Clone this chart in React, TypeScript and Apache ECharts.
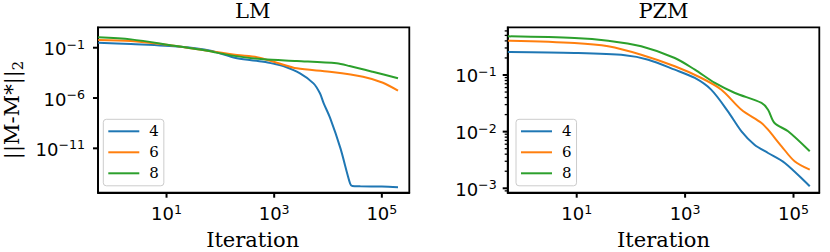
import React, { useEffect, useRef } from "react";
import * as echarts from "echarts";

const FONT = "DejaVu Serif";
const MATH_FONT = "DejaVu Sans";
const COLORS = ["#1f77b4", "#ff7f0e", "#2ca02c"];
const seriesNames = ["4", "6", "8"];
const panelTitles = ["LM", "PZM"];
const xAxisTitle = "Iteration";
const xTickExps = [1, 3, 5];
const lmYTickExps = [-11, -6, -1];
const pzmYTickExps = [-3, -2, -1];

// LM panel: log10(iteration) and log10(||M-M*||_2)
const lmX4 = [-0.27, 0.34, 1.26, 1.82, 2.31, 2.8, 3.0, 3.17, 3.48, 3.73, 3.85, 3.92, 4.04, 4.23, 4.41, 4.45, 4.6, 5.0, 5.3];
const lmY4 = [-0.5, -0.63, -0.9, -1.3, -2.05, -2.39, -2.6, -2.82, -3.55, -4.54, -5.53, -6.53, -8.0, -10.98, -14.5, -14.74, -14.77, -14.8, -14.86];
const lmX6 = [-0.27, 0.34, 1.14, 1.76, 2.31, 2.68, 3.05, 3.42, 4.03, 4.65, 5.02, 5.3];
const lmY6 = [-0.23, -0.33, -0.8, -1.3, -1.73, -1.95, -2.49, -3.05, -3.39, -3.88, -4.48, -5.27];
const lmX8 = [-0.27, 0.34, 1.14, 1.76, 2.19, 2.8, 3.42, 4.16, 4.4, 4.83, 5.3];
const lmY8 = [0.03, -0.17, -0.8, -1.3, -1.76, -2.15, -2.32, -2.55, -2.82, -3.39, -4.04];

// PZM panel
const pzmX4 = [-0.27, 0.96, 1.89, 2.32, 2.81, 3.18, 3.48, 3.79, 4.04, 4.28, 4.53, 4.84, 5.3];
const pzmY4 = [-0.594, -0.612, -0.652, -0.73, -0.906, -1.053, -1.259, -1.641, -1.994, -2.23, -2.377, -2.553, -2.965];
const pzmX6 = [-0.27, 0.96, 1.58, 2.19, 2.81, 3.3, 3.67, 4.04, 4.41, 4.53, 4.78, 5.02, 5.3];
const pzmY6 = [-0.395, -0.435, -0.493, -0.642, -0.846, -1.053, -1.259, -1.613, -1.847, -1.966, -2.259, -2.523, -2.672];
const pzmX8 = [-0.27, 0.96, 1.58, 2.19, 2.81, 3.18, 3.55, 3.92, 4.41, 4.53, 4.65, 4.9, 5.3];
const pzmY8 = [-0.317, -0.347, -0.395, -0.493, -0.7, -0.906, -1.141, -1.318, -1.494, -1.613, -1.847, -1.994, -2.347];

const zip = (xs: number[], ys: number[]) => xs.map((x, i) => [x, ys[i]]);

function sup(v: number) {
  const s = (v < 0 ? "\u2212" : "") + Math.abs(v);
  return `{b|10}{s|${s}}`;
}

const makeTickRich = () => ({
  b: { fontFamily: MATH_FONT, fontSize: 18, lineHeight: 20, verticalAlign: "bottom", color: "#000" },
  s: { fontFamily: MATH_FONT, fontSize: 12.6, lineHeight: 12, verticalAlign: "top", color: "#000" },
});

const LM_X = [-0.273, 5.51];
const PZM_X = [-0.273, 5.476];
const LM_Y = [-15.41, 1.03];
const PZM_Y = [-3.078, -0.158];
const pzmMinor: number[] = [];
for (let n = -4; n <= 0; n++) {
  for (let k = 2; k <= 9; k++) {
    const v = n + Math.log10(k);
    if (v > PZM_Y[0] && v < PZM_Y[1]) pzmMinor.push(v);
  }
}

const grids = [
  { left: 96, top: 27.3, width: 313.3, height: 165.4 },
  { left: 507.7, top: 27.3, width: 311.6, height: 165.4 },
];

export default function App() {
  const ref = useRef<HTMLDivElement>(null);
  useEffect(() => {
    if (!ref.current) return;
    const chart = echarts.init(ref.current, undefined, { renderer: "svg" });
    const axisLine = () => ({ show: true, onZero: false, lineStyle: { color: "#000", width: 1.8 } });
    const xAxisDef = (gi: number, ext: number[]) => ({
      type: "value",
      gridIndex: gi,
      min: ext[0],
      max: ext[1],
      position: "bottom",
      axisLine: axisLine(),
      splitLine: { show: false },
      axisTick: { show: false },
      axisLabel: { customValues: xTickExps, formatter: sup, rich: makeTickRich(), margin: 10 },
    });
    const yAxisDef = (gi: number, ext: number[], ticks: number[], margin: number, withName: boolean) => ({
      type: "value",
      gridIndex: gi,
      min: ext[0],
      max: ext[1],
      position: "left",
      axisLine: axisLine(),
      splitLine: { show: false },
      axisTick: { show: false },
      axisLabel: { customValues: ticks, formatter: sup, rich: makeTickRich(), margin },
      ...(withName
        ? {
            name: "{m|||M-M*||}{u|2}",
            nameLocation: "middle",
            nameRotate: 90,
            nameGap: 73,
            nameTextStyle: {
              rich: {
                m: { fontFamily: FONT, fontSize: 21, lineHeight: 24, verticalAlign: "top", color: "#000" },
                u: { fontFamily: FONT, fontSize: 14.7, lineHeight: 14, verticalAlign: "bottom", color: "#000" },
              },
            },
          }
        : {}),
    });
    // tick marks drawn through the axes' own scales with a custom series
    const tickSeries = (gi: number, dir: "x" | "y", vals: number[], base: number, len: number, w: number) => ({
      type: "custom",
      coordinateSystem: "cartesian2d",
      xAxisIndex: gi,
      yAxisIndex: gi,
      clip: false,
      silent: true,
      z: 5,
      data: vals.map((v) => (dir === "x" ? [v, base] : [base, v])),
      renderItem: (params: any, api: any) => {
        const p = api.coord([api.value(0), api.value(1)]);
        const shape =
          dir === "x"
            ? { x1: p[0], y1: p[1], x2: p[0], y2: p[1] + len }
            : { x1: p[0] - len, y1: p[1], x2: p[0], y2: p[1] };
        return { type: "line", shape, style: { stroke: "#000", lineWidth: w } };
      },
    });
    const mkSeries = (name: string, color: string, data: number[][], gi: number) => ({
      name,
      type: "line",
      xAxisIndex: gi,
      yAxisIndex: gi,
      data,
      color,
      showSymbol: false,
      symbol: "none",
      smooth: 0.3,
      lineStyle: { width: 2, color },
    });
    const legendBase = (left: number) => ({
      data: seriesNames,
      orient: "vertical",
      left,
      top: 119.3,
      icon: "rect",
      itemWidth: 31,
      itemHeight: 2,
      itemGap: 0,
      padding: [1.5, 5, 2, 5],
      borderColor: "#cccccc",
      borderWidth: 1,
      borderRadius: 3,
      backgroundColor: "rgba(255,255,255,0.8)",
      textStyle: { fontFamily: FONT, fontSize: 15, lineHeight: 21, color: "#000", padding: [0, 0, 0, 5] },
      selectedMode: false,
    });
    const option = {
      animation: false,
      grid: grids.map((g) => ({ ...g, show: true, borderColor: "#000", borderWidth: 1.8, backgroundColor: "transparent" })),
      xAxis: [xAxisDef(0, LM_X), xAxisDef(1, PZM_X)],
      yAxis: [yAxisDef(0, LM_Y, lmYTickExps, 13, true), yAxisDef(1, PZM_Y, pzmYTickExps, 11, false)],
      legend: [legendBase(103.3), legendBase(516)],
      series: [
        mkSeries(seriesNames[0], COLORS[0], zip(lmX4, lmY4), 0),
        mkSeries(seriesNames[1], COLORS[1], zip(lmX6, lmY6), 0),
        mkSeries(seriesNames[2], COLORS[2], zip(lmX8, lmY8), 0),
        mkSeries(seriesNames[0], COLORS[0], zip(pzmX4, pzmY4), 1),
        mkSeries(seriesNames[1], COLORS[1], zip(pzmX6, pzmY6), 1),
        mkSeries(seriesNames[2], COLORS[2], zip(pzmX8, pzmY8), 1),
        tickSeries(0, "x", xTickExps, LM_Y[0], 5, 2),
        tickSeries(0, "y", lmYTickExps, LM_X[0], 5, 2),
        tickSeries(1, "x", xTickExps, PZM_Y[0], 5, 2),
        tickSeries(1, "y", pzmYTickExps, PZM_X[0], 5, 2),
        tickSeries(1, "y", pzmMinor, PZM_X[0], 3, 1.3),
      ],
      graphic: [
        ...grids.map((g, i) => ({
          type: "text",
          x: g.left + g.width / 2,
          y: 11,
          style: { text: panelTitles[i], fontFamily: FONT, fontSize: 21, fill: "#000", textAlign: "center", textVerticalAlign: "middle" },
        })),
        ...grids.map((g) => ({
          type: "text",
          x: g.left + g.width / 2,
          y: 240,
          style: { text: xAxisTitle, fontFamily: FONT, fontSize: 21, fill: "#000", textAlign: "center", textVerticalAlign: "middle" },
        })),
      ],
    };
    chart.setOption(option as any);
    return () => chart.dispose();
  }, []);
  return <div ref={ref} style={{ position: "fixed", left: 0, top: 0, width: 830, height: 252, background: "#fff" }} />;
}
